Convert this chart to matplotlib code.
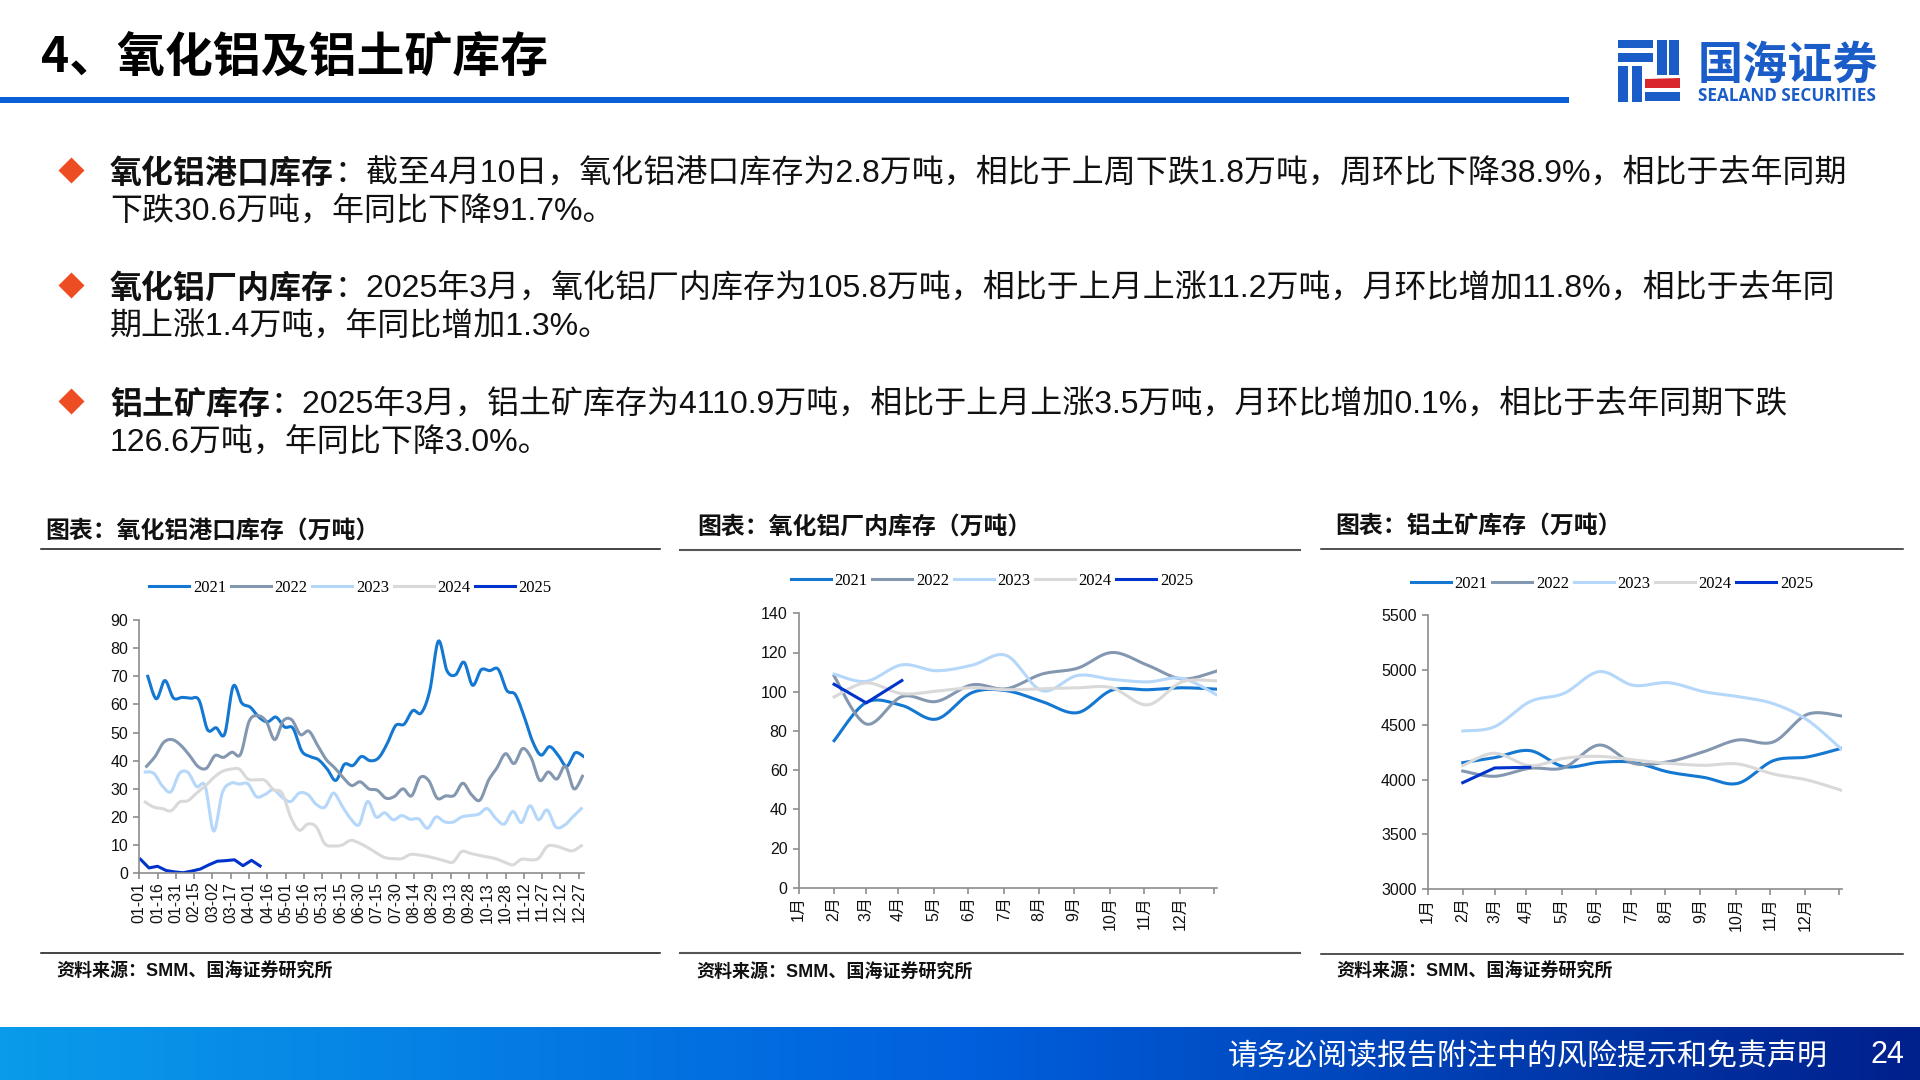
import numpy as np
import matplotlib
matplotlib.use("Agg")
import matplotlib.pyplot as plt
from matplotlib.colors import LinearSegmentedColormap
from matplotlib.font_manager import FontProperties
from matplotlib.patches import Polygon, Rectangle

SANS = ["Liberation Sans", "Noto Sans CJK SC"]
CJK = ["Noto Sans CJK SC", "DejaVu Sans"]
plt.rcParams["font.family"] = SANS

years = ["2021", "2022", "2023", "2024", "2025"]
year_colors = ["#1478d2", "#8497b0", "#b4d7fa", "#d9d9d9", "#0033cc"]

# weekly port stock, each year starts a few days into January
port_start_days = [7, 6, 5, 5, 1]
port_2021 = [70, 62, 68.5, 62.3, 62.5, 62.2, 61.5, 51, 51.7, 49.5, 66.5, 60.5, 59, 55.5, 53.8, 55.5, 52, 51.5,
             43.5, 41.5, 40.3, 37, 33, 38.7, 38.3, 41.5, 40, 41, 46, 52.5, 53, 57.8, 57, 65, 82.5, 72, 70.5, 75,
             66.8, 72.3, 72, 72.5, 65, 63.5, 56, 47, 42, 45, 42, 38, 42.8, 41.5]
port_2022 = [38, 41.5, 46.5, 47.5, 45.5, 42, 38, 37.3, 41.8, 41.2, 43, 42.3, 54, 56, 54, 47.5, 54.2, 54.5,
             49.3, 50.5, 45.5, 40.5, 37.5, 34, 31.2, 32.5, 30, 29.5, 26.7, 27.3, 30, 27.5, 34, 33, 26.7, 27.5,
             27.7, 32, 28, 26, 33, 37.5, 42.5, 39, 44.3, 41, 33, 36, 33.5, 38, 30, 34.5]
port_2023 = [36, 35.5, 31, 29, 35.5, 35.8, 30.8, 31, 15, 28.5, 32, 31.7, 31.8, 27.2, 28, 29.7, 27, 25.5, 28.5,
             28, 24.5, 23.5, 28.5, 24, 19.5, 17.3, 25.5, 20, 21.5, 19, 20.5, 19.2, 19.3, 16, 20, 18.3, 18.2, 20,
             20.5, 21, 23, 19.5, 17.5, 22, 18, 24, 19, 22.5, 16.5, 17, 20, 23]
port_2024 = [25.3, 23.5, 23, 22.2, 25.3, 25.8, 28.5, 31, 34, 36.2, 37, 37, 33.5, 33.2, 33, 29.7, 28.5, 20, 15.3,
             17.5, 16.5, 10.5, 9.7, 10, 11.7, 10.8, 9.2, 7.3, 5.6, 5.2, 5.2, 6.7, 6.5, 6, 5.3, 4.5, 4, 7.7, 7.1,
             6.4, 5.8, 5.2, 4, 3, 5, 4.8, 5.3, 9.5, 9.7, 8.7, 8, 9.8]
port_2025 = [5, 1.9, 2.5, 1, 0.5, 0.2, 0.8, 1.5, 3, 4.3, 4.5, 4.8, 2.7, 4.6, 2.6]
port_yticks = [0, 10, 20, 30, 40, 50, 60, 70, 80, 90]
port_tick_labels = ["01-01", "01-16", "01-31", "02-15", "03-02", "03-17", "04-01", "04-16", "05-01", "05-16",
                    "05-31", "06-15", "06-30", "07-15", "07-30", "08-14", "08-29", "09-13", "09-28", "10-13",
                    "10-28", "11-12", "11-27", "12-12", "12-27"]

# monthly series sit on the month ends of a date axis
month_end_days = [31, 59, 90, 120, 151, 181, 212, 243, 273, 304, 334, 364]
month_tick_days = [0, 31, 59, 87, 118, 148, 179, 209, 240, 271, 301, 332, 362]
month_tick_labels = ["1月", "2月", "3月", "4月", "5月", "6月", "7月", "8月", "9月", "10月", "11月", "12月", ""]

factory_2021 = [75, 94.5, 93, 86, 99.5, 100.5, 95, 89.3, 100.8, 101, 102, 101.3]
factory_2022 = [108, 83.5, 97.5, 95, 103.5, 101.5, 109, 112, 120, 113.5, 106.5, 110.5]
factory_2023 = [109, 105.3, 113.7, 110.7, 113.5, 118.5, 100.5, 108.3, 106.3, 105, 106.8, 98.5]
factory_2024 = [97.3, 104.5, 99, 100.3, 102, 101, 101.5, 102, 102, 93.3, 105, 105.5]
factory_2025 = [103.8, 94.3, 105.7]
factory_yticks = [0, 20, 40, 60, 80, 100, 120, 140]

bauxite_2021 = [4154, 4200, 4264, 4118, 4157, 4157, 4069, 4020, 3966, 4172, 4206, 4285]
bauxite_2022 = [4078, 4030, 4103, 4109, 4315, 4148, 4163, 4255, 4361, 4343, 4595, 4580]
bauxite_2023 = [4443, 4482, 4710, 4786, 4984, 4859, 4883, 4801, 4756, 4692, 4543, 4276]
bauxite_2024 = [4127, 4240, 4127, 4194, 4212, 4179, 4148, 4130, 4142, 4051, 3996, 3902]
bauxite_2025 = [3972, 4106, 4112]
bauxite_yticks = [3000, 3500, 4000, 4500, 5000, 5500]

bullets = [
    ("氧化铝港口库存", "：截至4月10日，氧化铝港口库存为2.8万吨，相比于上周下跌1.8万吨，周环比下降38.9%，相比于去年同期",
     "下跌30.6万吨，年同比下降91.7%。", 170.5, 209),
    ("氧化铝厂内库存", "：2025年3月，氧化铝厂内库存为105.8万吨，相比于上月上涨11.2万吨，月环比增加11.8%，相比于去年同",
     "期上涨1.4万吨，年同比增加1.3%。", 285.5, 324),
    ("铝土矿库存", "：2025年3月，铝土矿库存为4110.9万吨，相比于上月上涨3.5万吨，月环比增加0.1%，相比于去年同期下跌",
     "126.6万吨，年同比下降3.0%。", 401.5, 440),
]

fig = plt.figure(figsize=(19.2, 10.8), dpi=100, facecolor="white")

# full page layer in pixel coordinates for the slide furniture
page = fig.add_axes([0, 0, 1, 1])
page.set_xlim(0, 1920)
page.set_ylim(1080, 0)
page.axis("off")


def smooth(x, y, steps=14):
    # same idea as the "smoothed line" option of the spreadsheet that made these charts
    x = np.asarray(x, dtype=float)
    y = np.asarray(y, dtype=float)
    px = np.concatenate([[x[0]], x, [x[-1]]])
    py = np.concatenate([[y[0]], y, [y[-1]]])
    out_x, out_y = [], []
    t = np.linspace(0, 1, steps, endpoint=False)
    for i in range(1, len(px) - 2):
        c1x = px[i] + (px[i + 1] - px[i - 1]) / 6
        c1y = py[i] + (py[i + 1] - py[i - 1]) / 6
        c2x = px[i + 1] - (px[i + 2] - px[i]) / 6
        c2y = py[i + 1] - (py[i + 2] - py[i]) / 6
        out_x.extend((1 - t) ** 3 * px[i] + 3 * (1 - t) ** 2 * t * c1x + 3 * (1 - t) * t ** 2 * c2x + t ** 3 * px[i + 1])
        out_y.extend((1 - t) ** 3 * py[i] + 3 * (1 - t) ** 2 * t * c1y + 3 * (1 - t) * t ** 2 * c2y + t ** 3 * py[i + 1])
    out_x.append(x[-1])
    out_y.append(y[-1])
    return out_x, out_y


def make_axes(left, right, top, bottom):
    ax = fig.add_axes([left / 1920, 1 - bottom / 1080, (right - left) / 1920, (bottom - top) / 1080])
    ax.patch.set_alpha(0)
    for side in ["top", "right"]:
        ax.spines[side].set_visible(False)
    for side in ["left", "bottom"]:
        ax.spines[side].set_color("#8c8c8c")
        ax.spines[side].set_linewidth(1.2)
    return ax


def style_axes(ax, xticks, xlabels, yticks, xlim, legend_xy):
    ax.set_xlim(*xlim)
    ax.set_ylim(yticks[0], yticks[-1])
    ax.set_yticks(yticks)
    ax.set_xticks(xticks)
    ax.set_xticklabels(xlabels, rotation=90, family=SANS, fontsize=11.5, color="#111111")
    ax.tick_params(axis="y", length=4.3, width=1.2, color="#8c8c8c", pad=3.6, labelsize=11.5, labelcolor="#111111")
    ax.tick_params(axis="x", length=4.2, width=1.2, color="#8c8c8c", pad=1.8)
    ax.legend(loc="center", bbox_to_anchor=(legend_xy[0] / 1920, 1 - legend_xy[1] / 1080),
              bbox_transform=fig.transFigure, ncol=5, frameon=False, borderpad=0, borderaxespad=0,
              prop=FontProperties(family="Liberation Serif", size=12), handlelength=2.4, handletextpad=0.22,
              columnspacing=0.28)


# chart 1: port stock
ax1 = make_axes(139.2, 583.7, 620, 873.3)
port_series = [port_2021, port_2022, port_2023, port_2024, port_2025]
for i, values in enumerate(port_series):
    days = port_start_days[i] + 7 * np.arange(len(values))
    if years[i] == "2025":
        ax1.plot(days, values, color=year_colors[i], lw=2.2, label=years[i], solid_joinstyle="round")
    else:
        sx, sy = smooth(days, values)
        ax1.plot(sx, sy, color=year_colors[i], lw=2.2, label=years[i])
style_axes(ax1, np.arange(len(port_tick_labels)) * 15, port_tick_labels, port_yticks, (0, 364), (350.6, 588))

# chart 2: alumina plant stock
ax2 = make_axes(798.5, 1216.5, 613.3, 887.7)
factory_series = [factory_2021, factory_2022, factory_2023, factory_2024, factory_2025]
for i, values in enumerate(factory_series):
    days = month_end_days[:len(values)]
    if years[i] == "2025":
        ax2.plot(days, values, color=year_colors[i], lw=2.2, label=years[i])
    else:
        sx, sy = smooth(days, values)
        ax2.plot(sx, sy, color=year_colors[i], lw=2.2, label=years[i])
style_axes(ax2, month_tick_days, month_tick_labels, factory_yticks, (0, 364), (992, 581))

# chart 3: bauxite stock
ax3 = make_axes(1427.5, 1841.5, 615, 889.3)
bauxite_series = [bauxite_2021, bauxite_2022, bauxite_2023, bauxite_2024, bauxite_2025]
for i, values in enumerate(bauxite_series):
    days = month_end_days[:len(values)]
    if years[i] == "2025":
        ax3.plot(days, values, color=year_colors[i], lw=2.2, label=years[i])
    else:
        sx, sy = smooth(days, values)
        ax3.plot(sx, sy, color=year_colors[i], lw=2.2, label=years[i])
style_axes(ax3, month_tick_days, month_tick_labels, bauxite_yticks, (0, 364), (1612, 583.5))

# header
page.text(41, 57.5, "4、氧化铝及铝土矿库存", family=CJK, fontsize=34.5, fontweight="black", color="black", va="center")
page.add_patch(Rectangle((0, 97), 1569, 5.5, color="#0a5fd6", lw=0))

# logo
logo_blue = "#1a5cc8"
logo_boxes = [(25, 30, 130, 55), (25, 68, 130, 97), (25, 108, 55, 215), (65, 108, 95, 215),
              (140, 30, 170, 135), (178, 30, 208, 135), (105, 185, 210, 212)]
for x0, y0, x1, y1 in logo_boxes:
    page.add_patch(Rectangle((1610 + x0 / 3, 30 + y0 / 3), (x1 - x0) / 3, (y1 - y0) / 3, color=logo_blue, lw=0))
page.add_patch(Polygon([(1645, 79), (1680, 78), (1680, 88), (1645, 88)], color="#d8262c", lw=0))
page.text(1698, 65.5, "国海证券", family=CJK, fontsize=32.5, fontweight="bold", color=logo_blue, va="center")
page.text(1698, 96, "SEALAND SECURITIES", family="Open Sans", fontsize=12.3, fontweight="bold", color=logo_blue,
          va="center")

# bullet paragraphs
renderer = fig.canvas.get_renderer()
for lead, rest, second, y1, y2 in bullets:
    page.add_patch(Polygon([(71.5, y1 - 13), (84.5, y1), (71.5, y1 + 13), (58.5, y1)], color="#ee4c23", lw=0))
    head = page.text(110, y1 + 3, lead, family=CJK, fontsize=23, fontweight="bold", color="#111111", va="center")
    head_w = head.get_window_extent(renderer).width
    page.text(110 + head_w, y1 + 3, rest, family=SANS, fontsize=23, color="#111111", va="center")
    page.text(110, y2 + 3, second, family=SANS, fontsize=23, color="#111111", va="center")

# chart titles and rules
chart_boxes = [
    ("图表：氧化铝港口库存（万吨）", 45.5, 531, 41, 660, 549, 952.7, "#111111", 1.1),
    ("图表：氧化铝厂内库存（万吨）", 697.5, 526.5, 680, 1300, 550, 953, "#555555", 1.5),
    ("图表：铝土矿库存（万吨）", 1335.5, 525.5, 1321, 1903, 549, 953.5, "#222222", 1.1),
]
source_x = [56, 696, 1336]
source_y = [972, 973, 972]
for i, (title, tx, ty, x0, x1, y_top, y_bot, rule_color, rule_w) in enumerate(chart_boxes):
    page.text(tx, ty, title, family=CJK, fontsize=17.2, fontweight="bold", color="#111111", va="center")
    page.plot([x0, x1], [y_top, y_top], color=rule_color, lw=rule_w)
    page.plot([x0, x1], [y_bot, y_bot], color=rule_color, lw=rule_w)
    page.text(source_x[i], source_y[i], "资料来源：SMM、国海证券研究所", family=SANS, fontsize=13, fontweight="bold",
              color="#111111", va="center")

# footer band, gradient runs from light to deep blue
band_cmap = LinearSegmentedColormap.from_list("band", ["#0a9bea", "#0060dd", "#00208c"])
page.imshow(np.linspace(0, 1, 256).reshape(1, -1), cmap=band_cmap, extent=(0, 1920, 1080, 1027), aspect="auto",
            zorder=1)
page.set_xlim(0, 1920)
page.set_ylim(1080, 0)
page.text(1228, 1056.5, "请务必阅读报告附注中的风险提示和免责声明", family=SANS, fontsize=21.6, color="white", va="center", zorder=2)
page.text(1871, 1055, "24", family=SANS, fontsize=22, color="white", va="center", zorder=2)

fig.savefig("out.png", dpi=100)
